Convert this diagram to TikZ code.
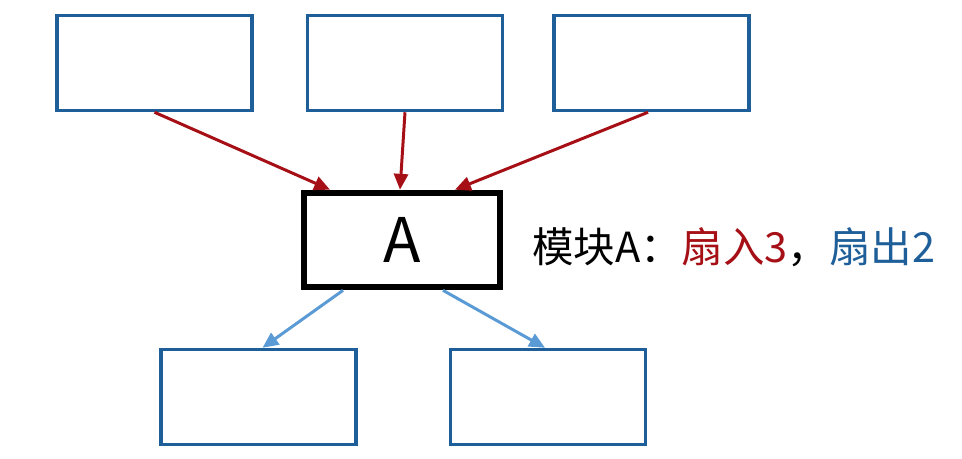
\documentclass[tikz,border=0pt]{standalone}
\usepackage{fontspec}
\setmainfont{Noto Sans CJK SC}
\usepackage{tikz}
\usetikzlibrary{positioning,arrows.meta,calc}
\definecolor{boxblue}{HTML}{1F5F99}
\definecolor{inred}{HTML}{A50F15}
\definecolor{outblue}{HTML}{5B9BD5}

\begin{document}
\begin{tikzpicture}[
    x=0.02cm, y=-0.02cm,
    box/.style={draw=boxblue, line width=2pt, minimum width=3.9cm, minimum height=1.9cm, inner sep=0pt},
    modbox/.style={draw=black, line width=3.8pt, minimum width=3.92cm, minimum height=1.88cm, inner sep=0pt, font=\fontsize{35}{40}\selectfont},
    inarr/.style={-{Triangle[length=9pt, width=8pt]}, line width=1.7pt, inred},
    outarr/.style={-{Triangle[length=9pt, width=8pt]}, line width=1.7pt, outblue}
  ]
    \useasboundingbox (0,0) rectangle (962,458);

    % callers (fan-in)
    \node[box] (t1) at (154.5,63) {};
    \node[box] (t2) at (405,63) {};
    \node[box] (t3) at (651.5,63) {};

    % module A
    \node[modbox] (a) at (402,240) {A};

    % callees (fan-out)
    \node[box] (b1) at (258.5,397) {};
    \node[box] (b2) at (548,397) {};

    \draw[inarr] (t1.south) -- ([xshift=-1.44cm]a.north);
    \draw[inarr] (t2.south) -- ([xshift=-0.04cm]a.north);
    \draw[inarr] ([xshift=-0.07cm]t3.south) -- ([xshift=1.06cm]a.north);

    \draw[outarr] ([xshift=-1.18cm]a.south) -- ([xshift=0.08cm]b1.north);
    \draw[outarr] ([xshift=0.82cm]a.south) -- ([xshift=-0.06cm]b2.north);

    \node[anchor=west, font=\fontsize{23.6}{28}\selectfont] (lbl) at (526,247)
      {模块A：\textcolor{inred}{扇入3}，\textcolor{boxblue}{扇出2}};
  \end{tikzpicture}
\end{document}
